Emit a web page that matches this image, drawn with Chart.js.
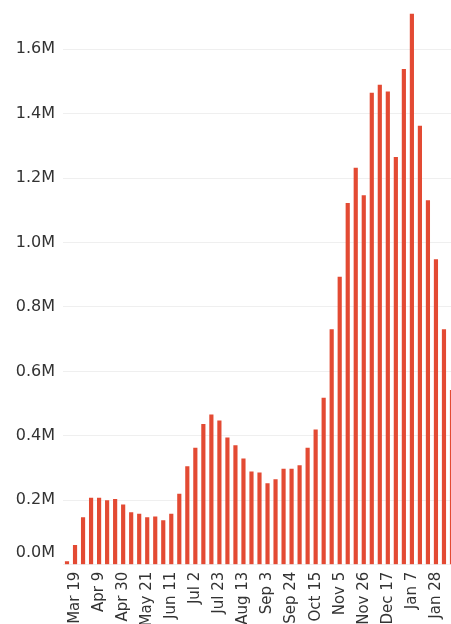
<!DOCTYPE html>
<html>
<head>
<meta charset="utf-8">
<script src="https://cdn.jsdelivr.net/npm/chart.js@4.4.1/dist/chart.umd.min.js"></script>
<style>
html, body { margin: 0; padding: 0; overflow: hidden; background: #ffffff; }
#wrap { position: relative; width: 456px; height: 624px; }
</style>
</head>
<body>
<div id="wrap"><canvas id="c"></canvas></div>
<script>
// Weekly categories (week starting dates)
const weeks = [
  'Mar 12','Mar 19','Mar 26','Apr 2','Apr 9','Apr 16','Apr 23','Apr 30',
  'May 7','May 14','May 21','May 28','Jun 4','Jun 11','Jun 18','Jun 25',
  'Jul 2','Jul 9','Jul 16','Jul 23','Jul 30','Aug 6','Aug 13','Aug 20',
  'Aug 27','Sep 3','Sep 10','Sep 17','Sep 24','Oct 1','Oct 8','Oct 15',
  'Oct 22','Oct 29','Nov 5','Nov 12','Nov 19','Nov 26','Dec 3','Dec 10',
  'Dec 17','Dec 24','Dec 31','Jan 7','Jan 14','Jan 21','Jan 28','Feb 4','Feb 11'
];
// Weekly values
const cases = [
  11000, 61000, 147000, 208000, 208000, 200000, 204000, 187000, 163000, 158000,
  147000, 150000, 138000, 158000, 220000, 306000, 363000, 437000, 466000, 448000,
  395000, 371000, 330000, 289000, 286000, 253000, 265000, 298000, 298000, 309000,
  363000, 420000, 518000, 731000, 894000, 1123000, 1232000, 1147000, 1465000, 1490000,
  1469000, 1266000, 1539000, 1710000, 1363000, 1131000, 948000, 731000, 542000
];
// X tick labels shown
const xTickLabels = ['Mar 19','Apr 9','Apr 30','May 21','Jun 11','Jul 2','Jul 23','Aug 13',
  'Sep 3','Sep 24','Oct 15','Nov 5','Nov 26','Dec 17','Jan 7','Jan 28'];
// Y ticks
const yTickValues = [0, 200000, 400000, 600000, 800000, 1000000, 1200000, 1400000, 1600000];
const yTickLabels = ['0.0M','0.2M','0.4M','0.6M','0.8M','1.0M','1.2M','1.4M','1.6M'];

const FONT = 'DejaVu Sans';
const TEXT = '#333333';

new Chart(document.getElementById('c'), {
  type: 'bar',
  data: {
    labels: weeks,
    datasets: [{
      data: cases,
      backgroundColor: '#e34a33',
      borderWidth: 0,
      barPercentage: 0.52,
      categoryPercentage: 1.0
    }]
  },
  options: {
    responsive: true,
    maintainAspectRatio: false,
    animation: false,
    layout: { padding: 0 },
    plugins: { legend: { display: false }, tooltip: { enabled: false } },
    scales: {
      x: {
        grid: { display: false, drawTicks: false },
        border: { display: false },
        ticks: {
          autoSkip: false,
          maxRotation: 90,
          minRotation: 90,
          padding: 7,
          color: TEXT,
          font: { family: FONT, size: 15 },
          callback: function (v, i) {
            return xTickLabels.includes(weeks[i]) ? weeks[i] : '';
          }
        },
        afterFit: function (scale) {
          scale.height = 59.3;
          scale.paddingLeft = 0;
          scale.paddingRight = 0;
        }
      },
      y: {
        min: 0,
        max: 1753000,
        grid: { color: '#efefef', drawTicks: false, lineWidth: 1 },
        border: { display: false },
        afterBuildTicks: function (scale) {
          scale.ticks = yTickValues.map(v => ({ value: v }));
        },
        ticks: {
          padding: 8,
          color: TEXT,
          font: function (ctx) {
            return { family: FONT, size: 16, lineHeight: ctx.index === 0 ? 23 / 16 : 1.2 };
          },
          callback: function (v) {
            const k = yTickValues.indexOf(v);
            return k === 0 ? [yTickLabels[k], ''] : yTickLabels[k];
          }
        },
        afterFit: function (scale) {
          scale.width = 63;
          scale.paddingTop = 0;
          scale.paddingBottom = 0;
        }
      }
    }
  }
});
</script>
</body>
</html>
